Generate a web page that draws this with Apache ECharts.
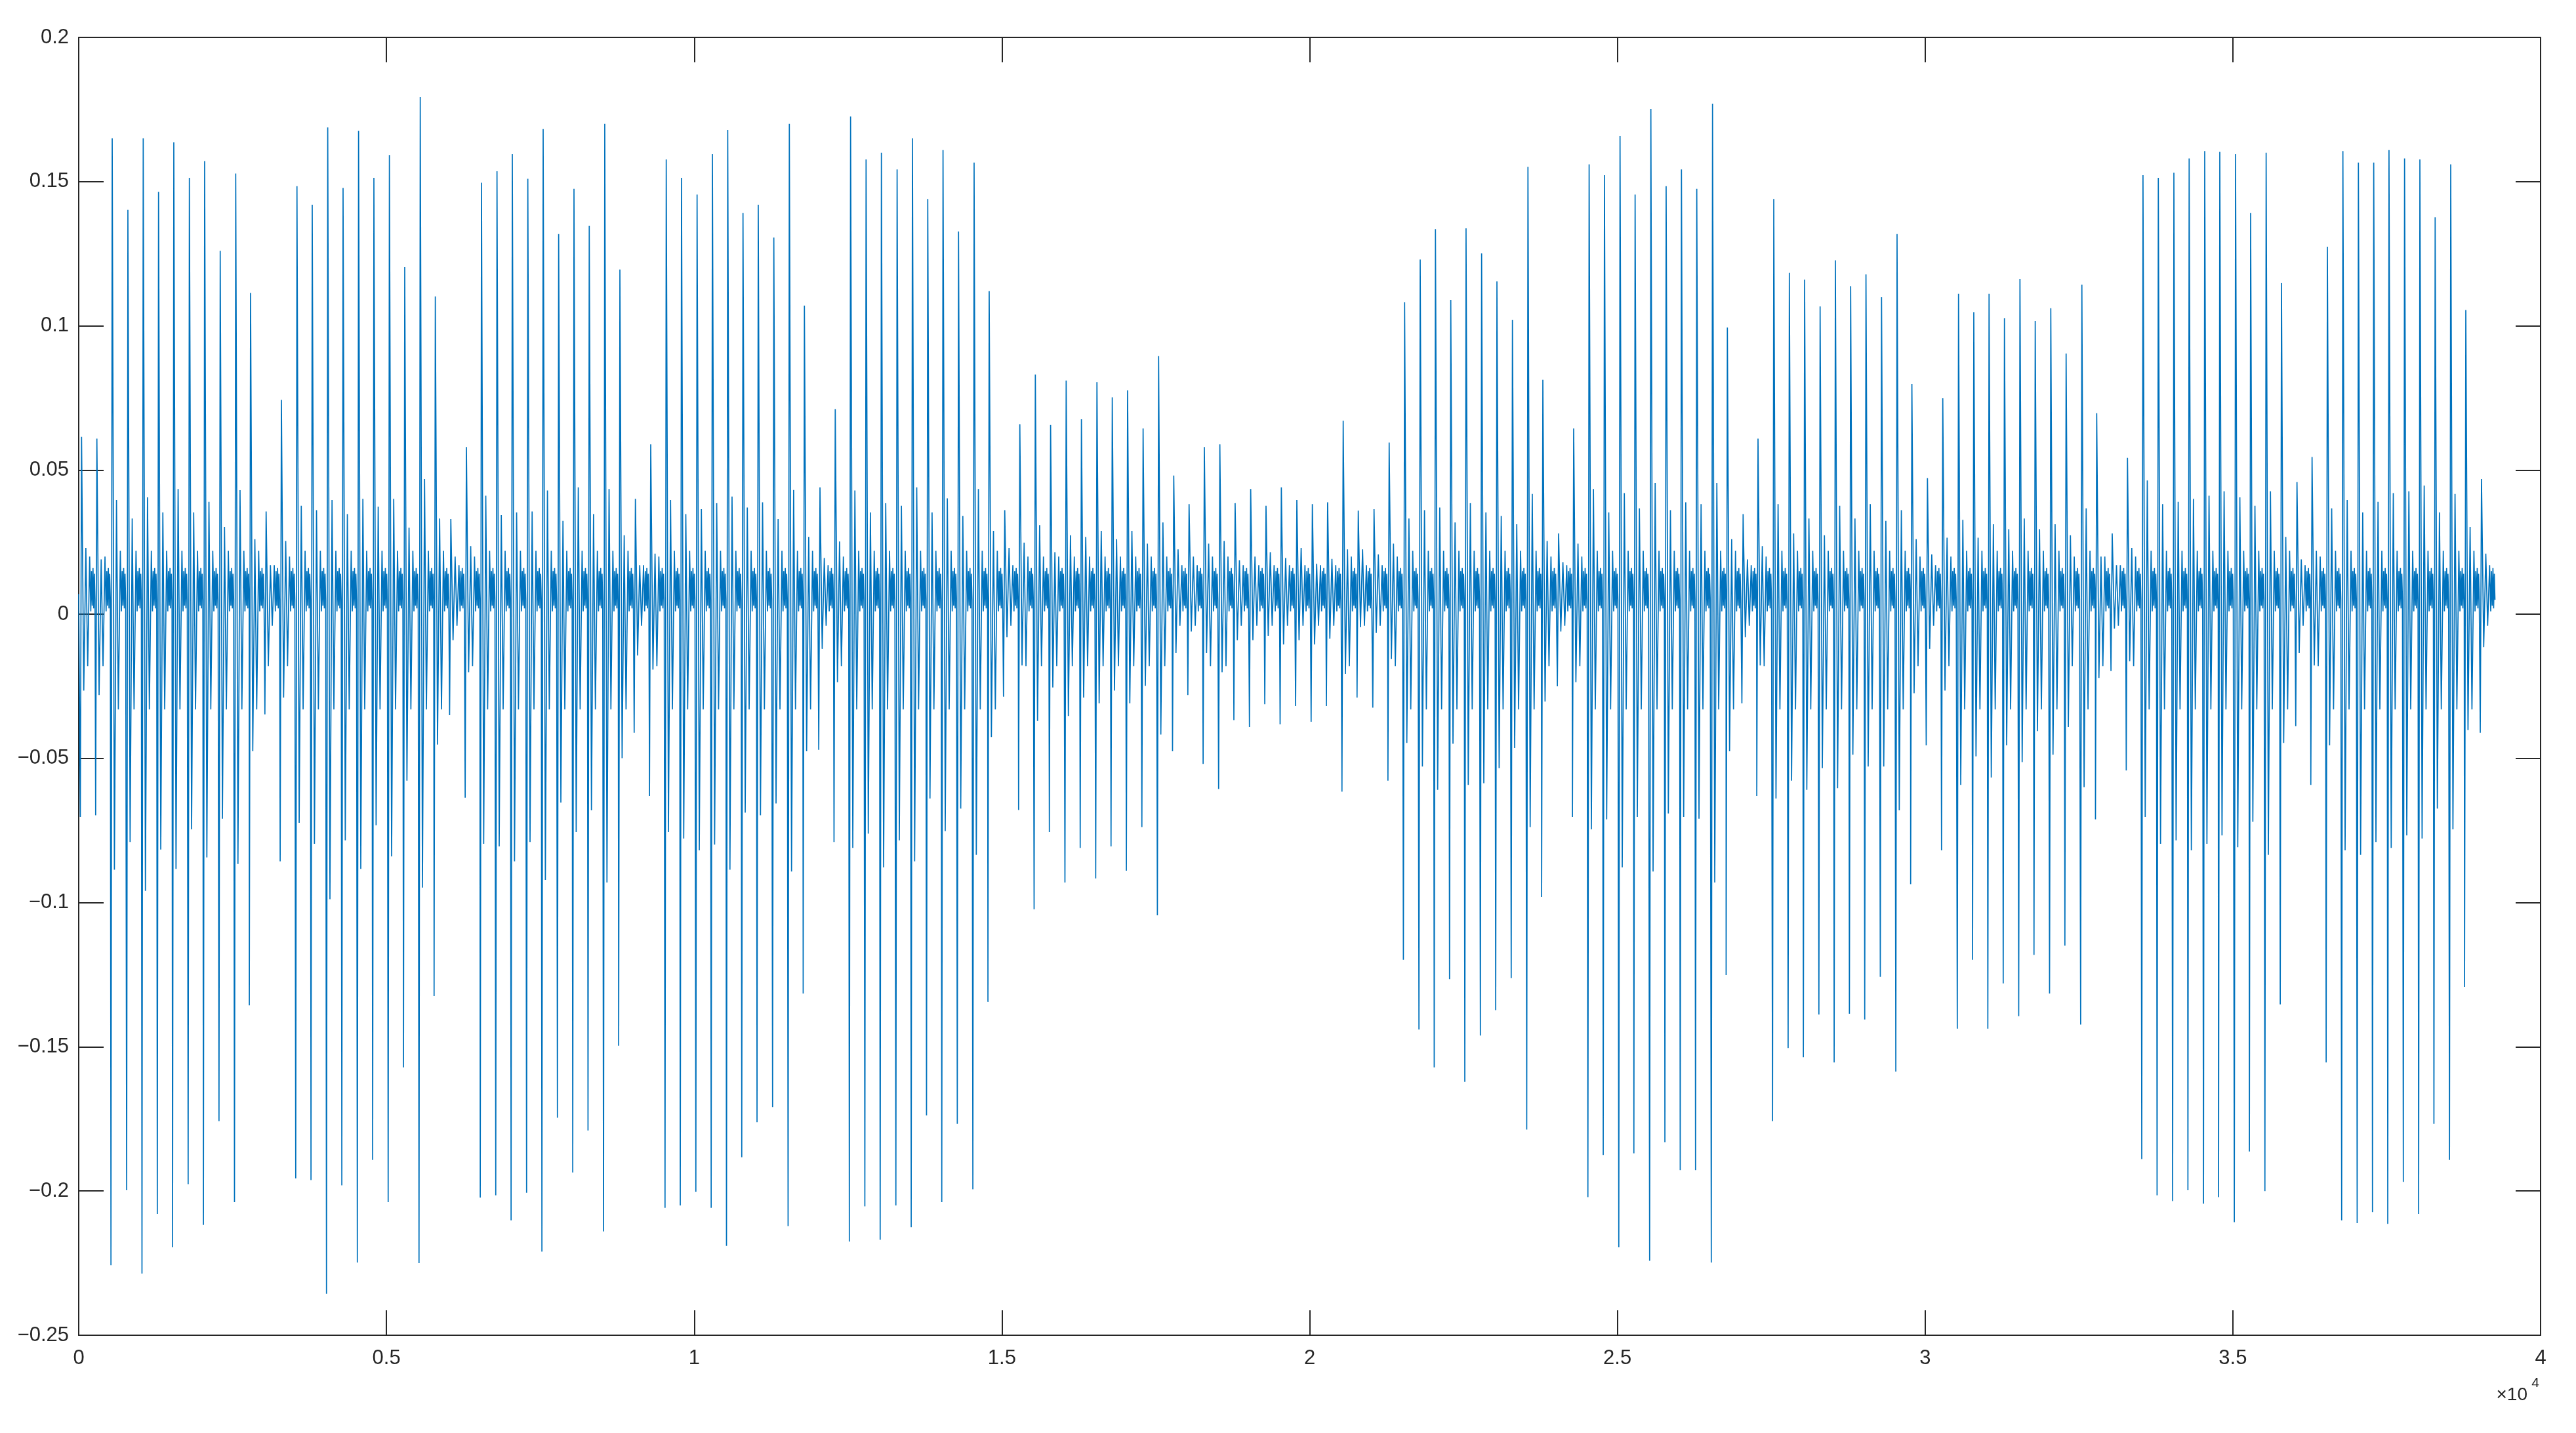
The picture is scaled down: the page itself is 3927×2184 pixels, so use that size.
<!DOCTYPE html>
<html>
<head>
<meta charset="utf-8">
<script src="https://cdn.jsdelivr.net/npm/echarts@6/dist/echarts.min.js"></script>
<style>
html,body{margin:0;padding:0;background:#fff;}
#chart{width:3927px;height:2184px;}
</style>
</head>
<body>
<div id="chart"></div>
<script>
// ---- data (sample index of each beat's main peak, and its extremes) ----
const eventX = [46,295,544,799,1048,1297,1545,1798,2046,2299,2551,2792,3045,3293,3546,3794,4046,4295,4547,4796,
5048,5297,5549,5794,6046,6299,6544,6796,7045,7297,7546,7798,8047,8295,8547,8793,9045,9294,9546,9794,
10047,10296,10545,10793,11041,11294,11546,11791,12044,12292,12541,12793,13042,13297,13546,13795,14043,14295,14548,14793,
15046,15291,15543,15791,16044,16292,16544,16793,17042,17294,17546,17792,18041,18289,18541,18789,19042,19291,19540,19792,
20044,20292,20545,20790,21046,21292,21543,21796,22044,22293,22541,22794,23043,23295,23547,23789,24045,24290,24541,24790,
25043,25288,25544,25792,26041,26290,26546,26787,27043,27285,27541,27794,28042,28294,28542,28790,29039,29292,29544,29785,
30038,30287,30543,30791,31039,31289,31541,31789,32042,32291,32547,32788,33040,33288,33540,33789,34042,34290,34543,34788,
35044,35289,35541,35790,36042,36287,36536,36788,37040,37289,37537,37790,38039,38287,38540,38785,39040];
const eventPeak = [0.0615,0.0609,0.165,0.1402,0.165,0.1464,0.1636,0.1513,0.1571,0.126,0.1528,0.1114,0.0356,0.0743,0.1484,0.142,0.1688,0.1478,0.1676,0.1513,
0.1592,0.1204,0.1793,0.1102,0.033,0.058,0.1496,0.1536,0.1595,0.151,0.1682,0.1318,0.1475,0.1347,0.17,0.1195,0.04,0.0589,0.1577,0.1513,
0.1455,0.1595,0.1679,0.1391,0.142,0.1306,0.17,0.107,0.044,0.0711,0.1726,0.1577,0.16,0.1542,0.165,0.144,0.1609,0.1327,0.1566,0.112,
0.0361,0.0659,0.0831,0.0656,0.081,0.0676,0.0805,0.0752,0.0776,0.0644,0.0895,0.0481,0.0382,0.058,0.0589,0.0385,0.0434,0.0376,0.044,0.0396,
0.0382,0.0388,0.0671,0.0359,0.0364,0.0595,0.1082,0.123,0.1335,0.109,0.1338,0.1251,0.1154,0.102,0.1551,0.0813,0.028,0.0644,0.156,0.1522,
0.1659,0.1455,0.1752,0.1484,0.1542,0.1475,0.177,0.0994,0.0347,0.0609,0.144,0.1184,0.116,0.1067,0.1227,0.1137,0.1178,0.1099,0.1318,0.0799,
0.0472,0.0749,0.1111,0.1047,0.1111,0.1026,0.1163,0.1017,0.1061,0.0904,0.1143,0.0697,0.028,0.0542,0.1522,0.1513,0.1531,0.158,0.1606,0.1603,
0.1595,0.1391,0.16,0.1149,0.0458,0.0545,0.1274,0.1606,0.1566,0.1566,0.1609,0.158,0.1577,0.1376,0.156,0.1055,0.0469];
const eventTrough = [-0.0703,-0.0697,-0.2257,-0.1997,-0.2286,-0.2079,-0.2195,-0.1977,-0.2117,-0.1758,-0.2038,-0.1356,-0.0347,-0.0857,-0.1956,-0.1962,-0.2356,-0.198,-0.2248,-0.1892,
-0.2038,-0.1571,-0.225,-0.1324,-0.035,-0.0636,-0.2023,-0.2015,-0.2102,-0.2006,-0.221,-0.1746,-0.1936,-0.179,-0.214,-0.1496,-0.0411,-0.063,-0.2058,-0.205,
-0.2003,-0.2058,-0.219,-0.1883,-0.1761,-0.1709,-0.2122,-0.1315,-0.047,-0.079,-0.2175,-0.2053,-0.2169,-0.205,-0.2125,-0.1738,-0.2038,-0.1767,-0.1994,-0.1344,
-0.0286,-0.0679,-0.1023,-0.0755,-0.093,-0.081,-0.0916,-0.0805,-0.0889,-0.0738,-0.1044,-0.0475,-0.028,-0.0519,-0.0606,-0.0367,-0.0391,-0.0312,-0.0382,-0.0318,
-0.0373,-0.0318,-0.0615,-0.0289,-0.0324,-0.0577,-0.1198,-0.144,-0.1571,-0.1265,-0.1621,-0.1461,-0.1373,-0.1262,-0.1787,-0.098,-0.025,-0.0703,-0.2021,-0.1875,
-0.2195,-0.1869,-0.2242,-0.1831,-0.1927,-0.1927,-0.2248,-0.1251,-0.0309,-0.063,-0.1758,-0.1504,-0.1536,-0.1388,-0.1554,-0.1385,-0.1405,-0.1257,-0.1586,-0.0936,
-0.0455,-0.0819,-0.1437,-0.1198,-0.1437,-0.128,-0.1394,-0.1181,-0.1315,-0.1149,-0.1423,-0.0711,-0.0197,-0.0542,-0.1889,-0.2015,-0.2035,-0.1997,-0.2044,-0.2021,
-0.2108,-0.1863,-0.2,-0.1353,-0.0388,-0.0592,-0.1554,-0.2102,-0.2111,-0.2073,-0.2114,-0.1968,-0.2079,-0.1767,-0.1892,-0.1292,-0.0411];
const eventTrough2 = [-0.0265,-0.028,-0.0886,-0.079,-0.0959,-0.0816,-0.0883,-0.0746,-0.0843,-0.0709,-0.0866,-0.0475,-0.018,-0.0289,-0.0723,-0.0796,-0.0988,-0.0784,-0.0883,-0.0732,
-0.084,-0.0577,-0.0948,-0.0452,-0.009,-0.0201,-0.0796,-0.0805,-0.0857,-0.079,-0.0921,-0.0653,-0.0755,-0.068,-0.093,-0.0499,-0.0143,-0.0192,-0.0755,-0.0778,
-0.0819,-0.0799,-0.0886,-0.0688,-0.0697,-0.0656,-0.0892,-0.0475,-0.012,-0.0236,-0.081,-0.0761,-0.0878,-0.0784,-0.0857,-0.0639,-0.0752,-0.0674,-0.0834,-0.0426,
-0.008,-0.0178,-0.037,-0.0254,-0.0353,-0.0289,-0.0309,-0.0265,-0.0309,-0.0248,-0.0417,-0.0134,-0.006,-0.0134,-0.0201,-0.009,-0.009,-0.0075,-0.0105,-0.009,
-0.0105,-0.0085,-0.0207,-0.0045,-0.0065,-0.0155,-0.0446,-0.0528,-0.0609,-0.0449,-0.0592,-0.0586,-0.0534,-0.0464,-0.0738,-0.0303,-0.006,-0.0236,-0.0746,-0.0711,
-0.0878,-0.0703,-0.0892,-0.0691,-0.0703,-0.0709,-0.093,-0.0475,-0.008,-0.0178,-0.0639,-0.0577,-0.0609,-0.0534,-0.0603,-0.0487,-0.0528,-0.0528,-0.068,-0.0274,
-0.012,-0.0265,-0.0592,-0.0493,-0.0566,-0.0455,-0.0513,-0.0405,-0.0487,-0.0391,-0.06,-0.0221,-0.005,-0.0163,-0.0703,-0.0796,-0.0784,-0.0819,-0.0796,-0.0767,
-0.0808,-0.072,-0.0834,-0.0446,-0.0134,-0.0178,-0.0455,-0.0819,-0.0834,-0.079,-0.081,-0.0767,-0.0778,-0.0674,-0.0746,-0.0402,-0.0114];
const eventPeak2 = [0.023,0.019,0.0396,0.0332,0.0405,0.0353,0.0434,0.0353,0.039,0.0303,0.043,0.026,0.017,0.0254,0.0376,0.0361,0.0396,0.0347,0.04,0.0373,
0.04,0.03,0.0469,0.0332,0.02,0.0236,0.0411,0.0344,0.0353,0.0356,0.0429,0.0324,0.044,0.0347,0.0434,0.0274,0.017,0.021,0.0396,0.0347,
0.0364,0.0385,0.0408,0.037,0.0388,0.033,0.0431,0.0268,0.0195,0.0252,0.0429,0.0353,0.0385,0.0376,0.044,0.0353,0.0402,0.0341,0.0434,0.0289,
0.023,0.0248,0.0309,0.0215,0.0274,0.0268,0.0289,0.026,0.0289,0.0245,0.0318,0.0225,0.02,0.0245,0.0254,0.0187,0.02,0.0215,0.0195,0.023,
0.0175,0.0192,0.0225,0.0225,0.0207,0.0245,0.0332,0.0361,0.037,0.0318,0.0385,0.0353,0.0341,0.0312,0.0417,0.0254,0.018,0.0245,0.0434,0.0353,
0.042,0.0367,0.0455,0.0361,0.0388,0.0382,0.0455,0.026,0.019,0.0236,0.0382,0.028,0.0332,0.0274,0.0376,0.0332,0.0382,0.0324,0.0361,0.026,
0.0207,0.0265,0.0327,0.0265,0.0312,0.0295,0.0332,0.0295,0.0312,0.0274,0.0367,0.02,0.017,0.023,0.0464,0.0382,0.039,0.04,0.0411,0.0426,
0.0405,0.0376,0.0426,0.0268,0.019,0.022,0.0367,0.0396,0.0353,0.039,0.042,0.0426,0.0446,0.0353,0.0417,0.0303,0.021];
// sample offsets (relative to the main peak) of trough1, peak, trough2, peak2 as read in the zooms
const keyOffsets = [-20, 0, 36, 70];
// ringing / baseline noise that follows each beat
const ringOffsets = [100, 132, 150, 162, 174, 186, 197, 208, 219];
const ringBig   = [-0.033, 0.022, 0.001, 0.015, 0.003, 0.016, 0.002, 0.014, 0.005];
const ringMid   = [-0.018, 0.020, 0.001, 0.015, 0.003, 0.016, 0.002, 0.014, 0.005];
const ringSmall = [-0.004, 0.017, 0.001, 0.015, 0.003, 0.016, 0.002, 0.014, 0.005];
const startPoint = [0, 0.007];
const yTicks = [-0.25, 0.2, 0.05];
const xTicks = [0, 40000, 5000];

// ---- build the polyline ----
const pts = [startPoint];
for (let i = 0; i < eventX.length; i++) {
  const x0 = eventX[i];
  const vals = [eventTrough[i], eventPeak[i], eventTrough2[i], eventPeak2[i]];
  for (let k = 0; k < 4; k++) pts.push([x0 + keyOffsets[k], vals[k]]);
  const ring = eventPeak[i] >= 0.095 ? ringBig : (eventPeak[i] >= 0.05 ? ringMid : ringSmall);
  for (let k = 0; k < ringOffsets.length; k++) pts.push([x0 + ringOffsets[k], ring[k]]);
}

const FONT = '"Liberation Sans", Arial, Helvetica, sans-serif';
const INK = '#262626';
const chart = echarts.init(document.getElementById('chart'), null, {renderer: 'canvas'});
const tickStyle = {show: true, inside: true, length: 38, lineStyle: {color: INK, width: 2}};
const lineStyleAx = {show: true, onZero: false, lineStyle: {color: INK, width: 2}};
const fmtY = v => { const s = String(+v.toFixed(2)); return s.charAt(0) === '-' ? '\u2212' + s.slice(1) : s; };
chart.setOption({
  animation: false,
  backgroundColor: '#ffffff',
  grid: {left: 120, right: 54, top: 57, bottom: 149, containLabel: false},
  xAxis: [
    {type: 'value', position: 'bottom', min: xTicks[0], max: xTicks[1], interval: xTicks[2],
     axisLine: lineStyleAx, axisTick: tickStyle, splitLine: {show: false},
     axisLabel: {color: INK, fontFamily: FONT, fontSize: 31, margin: 20,
       formatter: v => String(+(v / 10000).toFixed(2))}},
    {type: 'value', position: 'top', min: xTicks[0], max: xTicks[1], interval: xTicks[2],
     axisLine: lineStyleAx, axisTick: tickStyle, splitLine: {show: false}, axisLabel: {show: false}}
  ],
  yAxis: [
    {type: 'value', position: 'left', min: yTicks[0], max: yTicks[1], interval: yTicks[2],
     axisLine: lineStyleAx, axisTick: tickStyle, splitLine: {show: false},
     axisLabel: {color: INK, fontFamily: FONT, fontSize: 31, margin: 15, formatter: fmtY}},
    {type: 'value', position: 'right', min: yTicks[0], max: yTicks[1], interval: yTicks[2],
     axisLine: lineStyleAx, axisTick: tickStyle, splitLine: {show: false}, axisLabel: {show: false}}
  ],
  series: [{
    type: 'line', data: pts, xAxisIndex: 0, yAxisIndex: 0,
    showSymbol: false, symbol: 'none', sampling: null, smooth: false,
    lineStyle: {color: '#0072BD', width: 1.7}, z: 1
  }],
  graphic: [
    {type: 'text', right: 74, top: 2112, style: {text: '×10', fill: INK, font: '28px ' + FONT}},
    {type: 'text', right: 56, top: 2098, style: {text: '4', fill: INK, font: '21px ' + FONT}}
  ]
});
</script>
</body>
</html>
